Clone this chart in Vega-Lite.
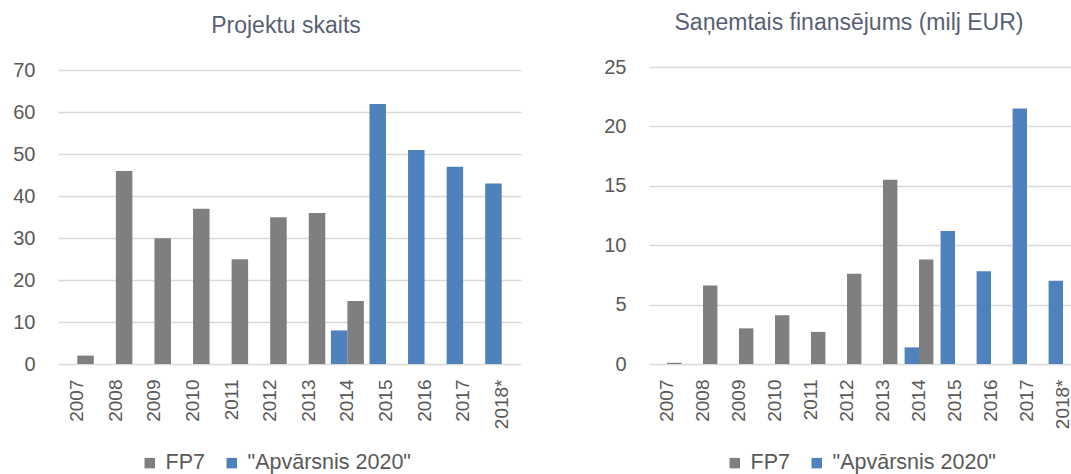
{
  "$schema": "https://vega.github.io/schema/vega-lite/v6.json",
  "background": "white",
  "padding": {"left": 12, "top": 12, "right": 0, "bottom": 0},
  "datasets": {
    "projekti": [
      {"gads": "2007", "programma": "FP7", "vertiba": 2},
      {"gads": "2008", "programma": "FP7", "vertiba": 46},
      {"gads": "2009", "programma": "FP7", "vertiba": 30},
      {"gads": "2010", "programma": "FP7", "vertiba": 37},
      {"gads": "2011", "programma": "FP7", "vertiba": 25},
      {"gads": "2012", "programma": "FP7", "vertiba": 35},
      {"gads": "2013", "programma": "FP7", "vertiba": 36},
      {"gads": "2014", "programma": "FP7", "vertiba": 15},
      {"gads": "2014", "programma": "\"Apvārsnis 2020\"", "vertiba": 8},
      {"gads": "2015", "programma": "\"Apvārsnis 2020\"", "vertiba": 62},
      {"gads": "2016", "programma": "\"Apvārsnis 2020\"", "vertiba": 51},
      {"gads": "2017", "programma": "\"Apvārsnis 2020\"", "vertiba": 47},
      {"gads": "2018*", "programma": "\"Apvārsnis 2020\"", "vertiba": 43}
    ],
    "finansejums": [
      {"gads": "2007", "programma": "FP7", "vertiba": 0.1},
      {"gads": "2008", "programma": "FP7", "vertiba": 6.6},
      {"gads": "2009", "programma": "FP7", "vertiba": 3.0},
      {"gads": "2010", "programma": "FP7", "vertiba": 4.1},
      {"gads": "2011", "programma": "FP7", "vertiba": 2.7},
      {"gads": "2012", "programma": "FP7", "vertiba": 7.6},
      {"gads": "2013", "programma": "FP7", "vertiba": 15.5},
      {"gads": "2014", "programma": "FP7", "vertiba": 8.8},
      {"gads": "2014", "programma": "\"Apvārsnis 2020\"", "vertiba": 1.4},
      {"gads": "2015", "programma": "\"Apvārsnis 2020\"", "vertiba": 11.2},
      {"gads": "2016", "programma": "\"Apvārsnis 2020\"", "vertiba": 7.8},
      {"gads": "2017", "programma": "\"Apvārsnis 2020\"", "vertiba": 21.5},
      {"gads": "2018*", "programma": "\"Apvārsnis 2020\"", "vertiba": 7.0}
    ]
  },
  "config": {
    "view": {"stroke": null},
    "font": "Liberation Sans",
    "title": {"fontSize": 23, "fontWeight": "normal", "color": "#595f73", "font": "Liberation Sans", "anchor": "middle", "frame": "group", "baseline": "alphabetic"},
    "axisX": {"domain": false, "ticks": false, "grid": false, "labelAngle": -90, "labelPadding": 15, "labelFontSize": 19, "labelColor": "#595959", "title": null},
    "axisY": {"domain": false, "ticks": false, "grid": true, "gridColor": "#d9d9d9", "gridWidth": 1.5, "labelPadding": 23, "labelFontSize": 20, "labelColor": "#595959", "title": null},
    "legend": {"orient": "none", "direction": "horizontal", "title": null, "symbolType": "square", "symbolSize": 110, "symbolStrokeWidth": 0, "labelFontSize": 21.5, "labelColor": "#595959", "labelLimit": 400, "columnPadding": 16, "labelOffset": 5, "padding": 0}
  },
  "resolve": {"scale": {"x": "independent", "y": "independent", "xOffset": "independent"}, "legend": {"color": "independent"}},
  "spacing": 82,
  "hconcat": [
    {
      "title": {"text": "Projektu skaits", "dx": -3.5, "offset": 22},
      "width": 463,
      "height": 297,
      "data": {"name": "projekti"},
      "mark": {"type": "bar"},
      "encoding": {
        "x": {"field": "gads", "type": "nominal", "scale": {"domain": ["2007","2008","2009","2010","2011","2012","2013","2014","2015","2016","2017","2018*"], "paddingInner": 0.145, "paddingOuter": 0.0725}},
        "xOffset": {"field": "programma", "type": "nominal", "scale": {"domain": ["\"Apvārsnis 2020\"", "FP7"], "paddingInner": 0, "paddingOuter": 0}},
        "y": {"field": "vertiba", "type": "quantitative", "scale": {"domain": [0, 70.8], "nice": false}, "axis": {"values": [0, 10, 20, 30, 40, 50, 60, 70]}},
        "color": {"field": "programma", "type": "nominal", "scale": {"domain": ["FP7", "\"Apvārsnis 2020\""], "range": ["#7f7f7f", "#4f81bd"]}, "legend": {"legendX": 81, "legendY": 385}}
      }
    },
    {
      "title": {"text": "Saņemtais finansējums (milj EUR)", "dx": -11.5, "offset": 22},
      "width": 423,
      "height": 297,
      "data": {"name": "finansejums"},
      "mark": {"type": "bar"},
      "encoding": {
        "x": {"field": "gads", "type": "nominal", "scale": {"domain": ["2007","2008","2009","2010","2011","2012","2013","2014","2015","2016","2017","2018*"], "range": [0, 432], "paddingInner": 0.2, "paddingOuter": 0.1}},
        "xOffset": {"field": "programma", "type": "nominal", "scale": {"domain": ["\"Apvārsnis 2020\"", "FP7"], "paddingInner": 0, "paddingOuter": 0}},
        "y": {"field": "vertiba", "type": "quantitative", "scale": {"domain": [0, 25], "nice": false}, "axis": {"values": [0, 5, 10, 15, 20, 25]}},
        "color": {"field": "programma", "type": "nominal", "scale": {"domain": ["FP7", "\"Apvārsnis 2020\""], "range": ["#7f7f7f", "#4f81bd"]}, "legend": {"legendX": 75, "legendY": 385}}
      }
    }
  ]
}
